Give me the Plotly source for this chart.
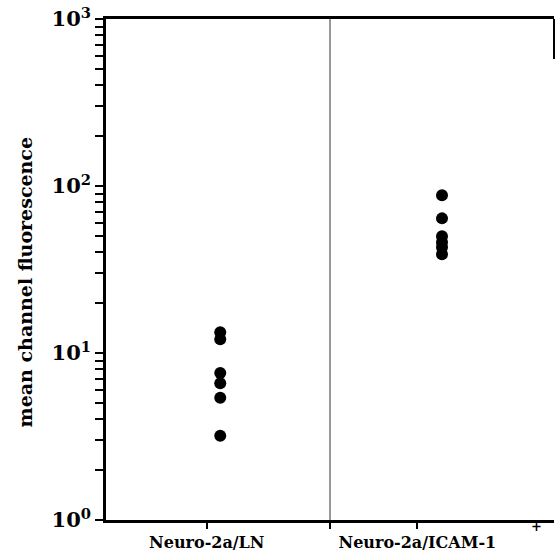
import plotly.graph_objects as go

# Data
groups = ["Neuro-2a/LN", "Neuro-2a/ICAM-1"]
group_x = [0.51, 1.50]
ln_values = [13.3, 12.1, 7.6, 6.6, 5.4, 3.2]
icam_values = [88, 64, 50, 46, 43, 39]
y_major = [1, 10, 100, 1000]
y_major_text = ["10<sup>0</sup>", "10<sup>1</sup>", "10<sup>2</sup>", "10<sup>3</sup>"]
x_tickvals = [0.45, 1.0, 1.39]
x_ticktext = ["Neuro-2a/LN", "", "Neuro-2a/ICAM-1"]
y_title = "mean channel fluorescence"

minor_vals = [m * 10 ** k for k in range(0, 3) for m in range(2, 10)]
y_tickvals = y_major + minor_vals
y_ticktext = y_major_text + [""] * len(minor_vals)

font_family = "DejaVu Serif, serif"

fig = go.Figure()
for xv, vals in zip(group_x, [ln_values, icam_values]):
    fig.add_trace(go.Scatter(
        x=[xv] * len(vals), y=vals, mode="markers",
        marker=dict(color="black", size=12),
        showlegend=False, hoverinfo="y",
    ))

fig.update_layout(
    width=559, height=559,
    margin=dict(l=106, r=5, t=19, b=39),
    paper_bgcolor="white", plot_bgcolor="white",
    font=dict(family=font_family, color="black"),
)

fig.update_xaxes(
    range=[0, 2], showgrid=False, zeroline=False,
    showline=True, linecolor="black", linewidth=2.5, mirror=True,
    tickmode="array", tickvals=x_tickvals, ticktext=x_ticktext,
    ticks="outside", ticklen=6, tickwidth=2, tickcolor="black",
    tickfont=dict(size=16, family=font_family, weight="bold"),
    automargin=False,
)

fig.update_yaxes(
    type="log", range=[0, 3], showgrid=False, zeroline=False,
    showline=True, linecolor="black", linewidth=2.5,
    tickmode="array", tickvals=y_tickvals, ticktext=y_ticktext,
    ticks="outside", ticklen=8, tickwidth=2, tickcolor="black",
    tickfont=dict(size=21, family=font_family, weight="bold"),
    automargin=False,
)

# Y-axis title
fig.add_annotation(text=y_title, xref="paper", yref="paper", x=-0.18, y=0.475,
                   textangle=-90, showarrow=False,
                   font=dict(size=19, family=font_family, weight="bold"),
                   xanchor="center", yanchor="middle")

# Divider between the two groups
fig.add_shape(type="line", xref="x", yref="paper", x0=1.0, x1=1.0, y0=0, y1=1,
              line=dict(color="#333333", width=1))
# Partial right border near the top
fig.add_shape(type="line", xref="paper", yref="paper", x0=1, x1=1, y0=0.92, y1=1,
              line=dict(color="black", width=2))

fig.add_annotation(text="+", xref="paper", yref="paper", x=0.96, y=-0.012,
                   showarrow=False, font=dict(size=13, family=font_family, weight="bold"),
                   xanchor="center", yanchor="middle")

fig.write_html("out.html", config={"displayModeBar": False},
               post_script="document.body.style.margin='0px';")
